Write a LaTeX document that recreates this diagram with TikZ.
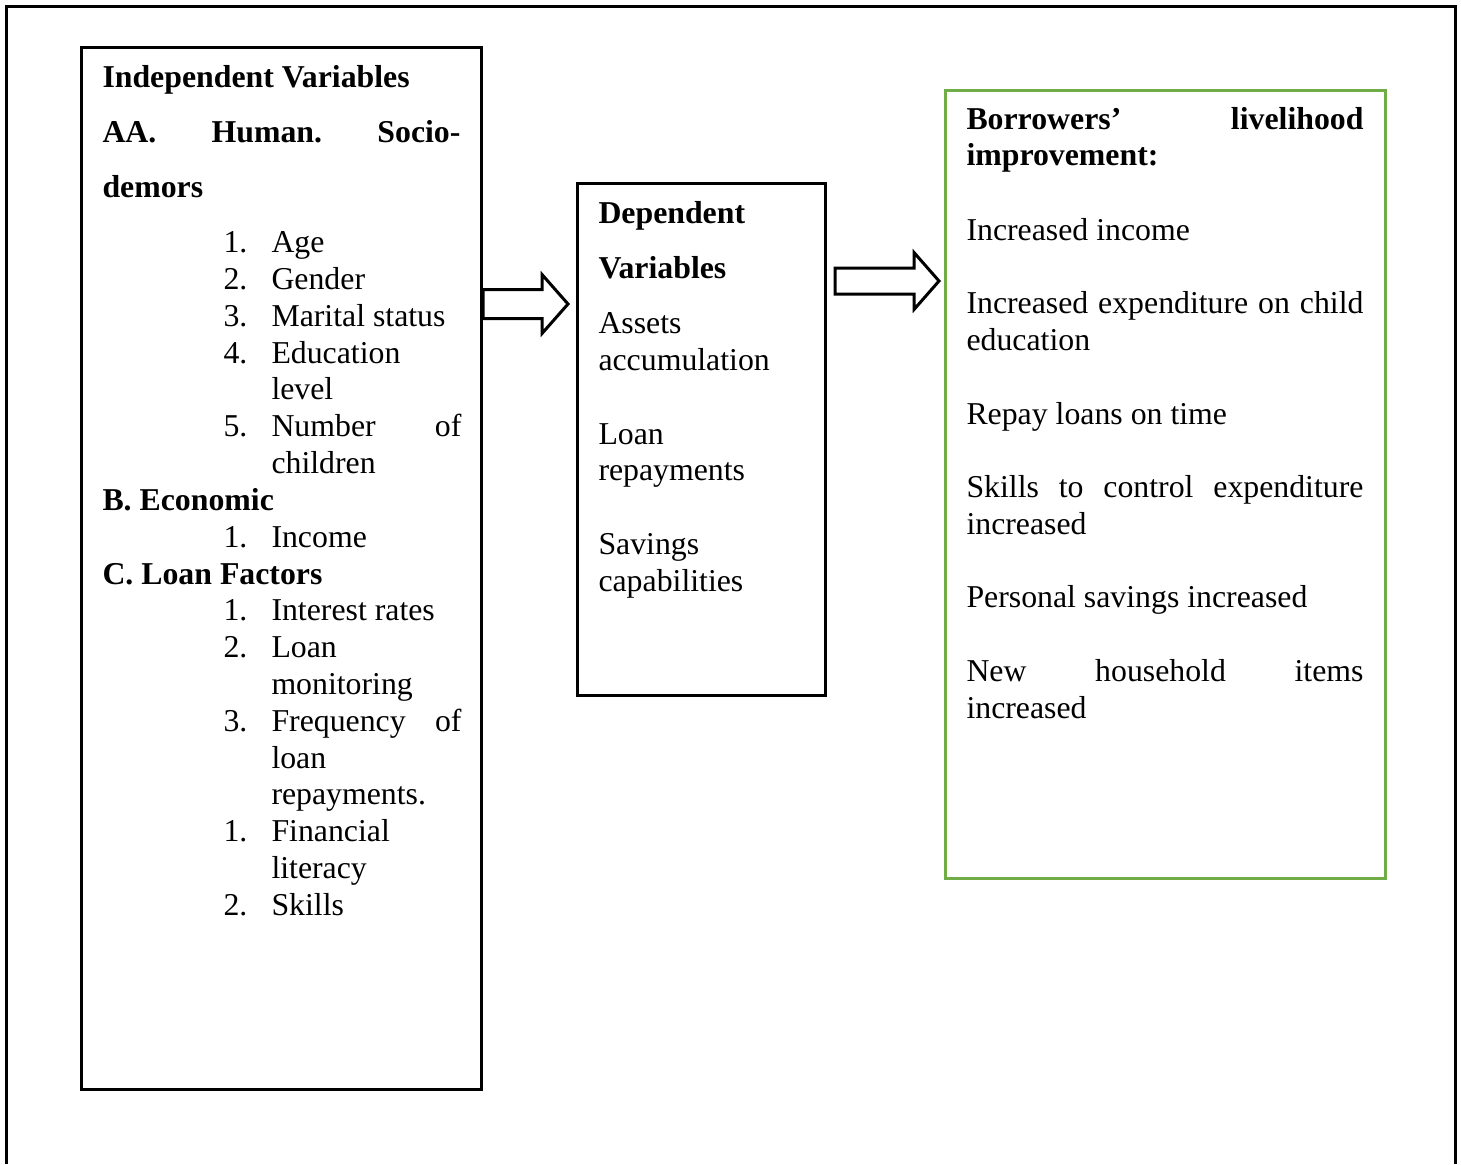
\documentclass[tikz,border=0pt]{standalone}
\usepackage{fontspec}
\setmainfont{Liberation Serif}
\usepackage{xcolor}
\usepackage{tikz}
\usetikzlibrary{calc}

\definecolor{boxgreen}{RGB}{112,173,71}

\begin{document}
\fontsize{15.9}{18.4}\selectfont
\begin{tikzpicture}[x=0.5pt, y=-0.5pt, line width=1.5pt,
    txt/.style={inner sep=0pt, anchor=base west},
    head/.style={txt, font=\bfseries},
    varbox/.style={draw, anchor=north west, inner sep=0pt},
    blockarrow/.style={draw, line join=miter}]
        \useasboundingbox (0,0) rectangle (1461,1164);
        % outer frame (open at the bottom)
        \draw (6,1164) -- (6,6) -- (1455,6) -- (1455,1164);

        % the three boxes
        \node[varbox, minimum width=200pt, minimum height=521pt] (indep) at (80,46) {};
        \node[varbox, minimum width=124pt, minimum height=256pt] (dep) at (576,182) {};
        \node[varbox, draw=boxgreen, minimum width=220pt, minimum height=394pt]
          (livelihood) at (944,89) {};

        % independent variables
        \node[head] (indephead) at (101,87) {Independent Variables};
        \node[head] (secA) at (101,142) {\makebox[179pt][s]{AA.\hfill Human.\hfill Socio-}};
        \node[head] (secAcont) at (101,197) {demors};
        \node[head] (secB) at (101,510) {B. Economic};
        \node[head] (secC) at (101,584) {C. Loan Factors};
        \foreach \y/\m [count=\k] in {252/1, 289/2, 326/3, 363/4, 436/5, 547/1, 620/1, 657/2, 731/3, 841/1, 915/2}
          \node[txt] (num\k) at (222,\y) {\m.};
        \foreach \y/\t [count=\k] in {252/Age, 289/Gender, 326/Marital status, 363/Education, 399/level,
            473/children, 547/Income, 620/Interest rates, 657/Loan, 694/monitoring, 768/loan,
            804/repayments., 841/Financial, 878/literacy, 915/Skills}
          \node[txt] (item\k) at (270,\y) {\t};
        \node[txt] (number) at (270,436) {\makebox[95pt][s]{Number\hfill of}};
        \node[txt] (freq) at (270,731) {\makebox[95pt][s]{Frequency\hfill of}};

        % dependent variables
        \node[head] (dephead1) at (597,223) {Dependent};
        \node[head] (dephead2) at (597,278) {Variables};
        \foreach \y/\t [count=\k] in {333/Assets, 370/accumulation, 444/Loan, 480/repayments,
            554/Savings, 591/capabilities}
          \node[txt] (dep\k) at (597,\y) {\t};

        % livelihood improvement
        \node[head] (outhead1) at (965,129) {\makebox[198.5pt][s]{Borrowers’\hfill livelihood}};
        \node[head] (outhead2) at (965,165) {improvement:};
        \node[txt] (out1) at (965,240) {Increased income};
        \node[txt] (out2) at (965,313) {\makebox[198.5pt][s]{Increased\hfill expenditure\hfill on\hfill child}};
        \node[txt] (out3) at (965,350) {education};
        \node[txt] (out4) at (965,424) {Repay loans on time};
        \node[txt] (out5) at (965,497) {\makebox[198.5pt][s]{Skills\hfill to\hfill control\hfill expenditure}};
        \node[txt] (out6) at (965,534) {increased};
        \node[txt] (out7) at (965,607) {Personal savings increased};
        \node[txt] (out8) at (965,681) {\makebox[198.5pt][s]{New\hfill household\hfill items}};
        \node[txt] (out9) at (965,718) {increased};

        % block arrows
        \coordinate (a1s) at ($(indep.north east)+(0,258)$);
        \coordinate (a1t) at ($(dep.north west)+(-8,122)$);
        \coordinate (a2s) at ($(dep.north east)+(8,99)$);
        \coordinate (a2t) at ($(livelihood.north west)+(-5,192)$);
        \draw[blockarrow] ($(a1s)+(0,-14.5)$) -- ($(a1t)+(-26,-14.5)$) -- ($(a1t)+(-26,-29.5)$) -- (a1t)
          -- ($(a1t)+(-26,29.5)$) -- ($(a1t)+(-26,14.5)$) -- ($(a1s)+(0,14.5)$) -- cycle;
        \draw[blockarrow] ($(a2s)+(0,-13)$) -- ($(a2t)+(-25,-13)$) -- ($(a2t)+(-25,-28.5)$) -- (a2t)
          -- ($(a2t)+(-25,28.5)$) -- ($(a2t)+(-25,13)$) -- ($(a2s)+(0,13)$) -- cycle;
      \end{tikzpicture}
\end{document}
